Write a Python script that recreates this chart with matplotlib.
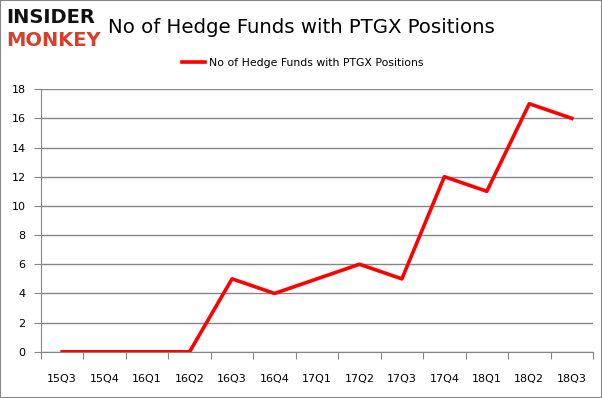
import numpy as np
import matplotlib.pyplot as plt
from matplotlib.patches import Rectangle

quarters = ["15Q3", "15Q4", "16Q1", "16Q2", "16Q3", "16Q4", "17Q1",
            "17Q2", "17Q3", "17Q4", "18Q1", "18Q2", "18Q3"]
funds = [0, 0, 0, 0, 5, 4, 5, 6, 5, 12, 11, 17, 16]
series_name = "No of Hedge Funds with PTGX Positions"

fig = plt.figure(figsize=(6.02, 3.98), dpi=100)
ax = fig.add_axes([0.068, 0.116, 0.917, 0.66])

x = np.arange(len(quarters))
ax.plot(x, funds, color="#ff0000", lw=2.6, label=series_name)

ax.set_xlim(-0.5, len(quarters) - 0.5)
ax.set_ylim(0, 18)
ax.set_yticks(range(0, 19, 2))
ax.yaxis.grid(True, color="#868686", lw=1)
ax.set_axisbelow(True)

# categories between ticks
ax.set_xticks(np.arange(-0.5, len(quarters), 1.0))
ax.set_xticklabels([])
ax.set_xticks(x, minor=True)
ax.set_xticklabels(quarters, minor=True)
ax.tick_params(axis="x", which="minor", length=0, pad=16, labelsize=8)
ax.tick_params(axis="x", which="major", length=5, color="#868686")
ax.tick_params(axis="y", length=5, color="#868686", labelsize=8, pad=6)

for s in ["top", "right"]:
    ax.spines[s].set_visible(False)
for s in ["left", "bottom"]:
    ax.spines[s].set_color("#868686")

ax.legend(loc="lower center", bbox_to_anchor=(0.475, 1.045), frameon=False,
          fontsize=7.8, handlelength=2.1, handletextpad=0.4)

fig.text(0.5, 0.932, "No of Hedge Funds with PTGX Positions", ha="center",
         va="center", fontsize=14.2)

# logo
fig.text(0.01, 0.955, "INSIDER", ha="left", va="center", fontsize=14,
         fontweight="heavy", color="#111111")
fig.text(0.01, 0.897, "MONKEY", ha="left", va="center", fontsize=14,
         fontweight="heavy", color="#d6402b")

fig.patches.append(Rectangle((0, 0), 1, 1, transform=fig.transFigure,
                             fill=False, edgecolor="#868686", lw=1.5))

fig.savefig("out.png", dpi=100)
